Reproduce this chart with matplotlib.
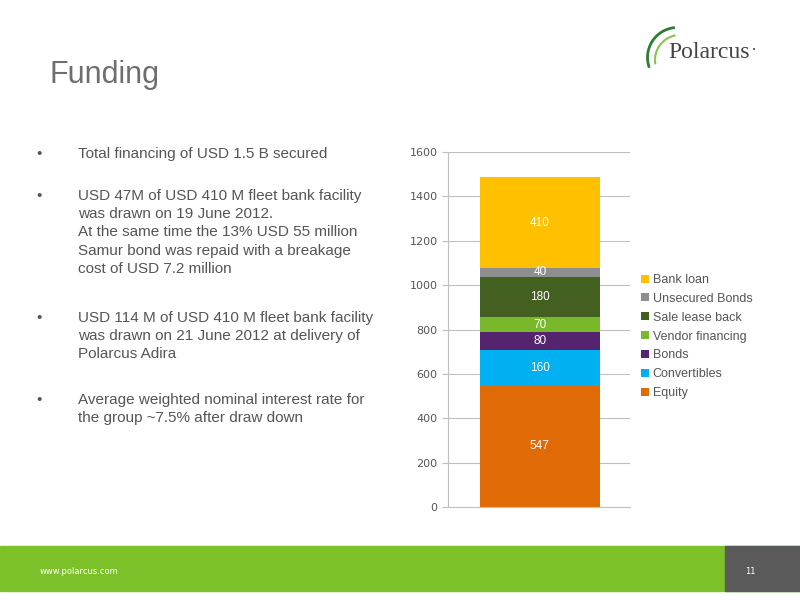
import matplotlib.pyplot as plt
import matplotlib.patches as mpatches
from matplotlib.patches import Arc

categories = ["Equity", "Convertibles", "Bonds", "Vendor financing",
              "Sale lease back", "Unsecured Bonds", "Bank loan"]
values = [547, 160, 80, 70, 180, 40, 410]
colors = ["#E06A06", "#00B0F0", "#55246F", "#78B82A", "#446020", "#8E8E8E", "#FFC000"]
yticks = [0, 200, 400, 600, 800, 1000, 1200, 1400, 1600]

bullets = [
    (147, "Total financing of USD 1.5 B secured"),
    (189, "USD 47M of USD 410 M fleet bank facility\nwas drawn on 19 June 2012.\nAt the same time the 13% USD 55 million\nSamur bond was repaid with a breakage\ncost of USD 7.2 million"),
    (311, "USD 114 M of USD 410 M fleet bank facility\nwas drawn on 21 June 2012 at delivery of\nPolarcus Adira"),
    (393, "Average weighted nominal interest rate for\nthe group ~7.5% after draw down"),
]

fig = plt.figure(figsize=(8, 6), dpi=100)
fig.patch.set_facecolor("white")

# title and bullets
fig.text(50 / 800, 1 - 75 / 600, "Funding", fontsize=22, color="#6E6E6E", va="center",
         family="Liberation Sans")
for y, t in bullets:
    fig.text(36 / 800, 1 - y / 600, "•", fontsize=11, color="#555555", va="top",
             family="Liberation Sans")
    fig.text(78 / 800, 1 - y / 600, t, fontsize=11, color="#555555", va="top",
             linespacing=1.38, family="Liberation Sans")

# logo
fig.text(668 / 800, 1 - 52 / 600, "Polarcus", fontsize=17, color="#444444",
         family="Liberation Serif", va="center")
fig.text(752 / 800, 1 - 50 / 600, "•", fontsize=5, color="#444444", va="center")
lax = fig.add_axes([640 / 800, 1 - 75 / 600, 50 / 800, 50 / 600])
lax.set_xlim(0, 1); lax.set_ylim(0, 1); lax.axis("off")
lax.add_patch(Arc((0.75, 0.35), 1.2, 1.2, theta1=95, theta2=200, color="#2E7D32", lw=2))
lax.add_patch(Arc((0.8, 0.3), 1.0, 1.0, theta1=100, theta2=190, color="#8BC34A", lw=1.5))

# footer
fig.patches.append(mpatches.Rectangle((0, 0.015), 1, 0.075, transform=fig.transFigure,
                                      color="#7CC12A", zorder=0))
fig.patches.append(mpatches.Rectangle((725 / 800, 0.015), 75 / 800, 0.075,
                                      transform=fig.transFigure, color="#5A5A5A", zorder=1))
fig.text(40 / 800, 1 - 572 / 600, "www.polarcus.com", fontsize=6, color="white", va="center")
fig.text(745 / 800, 1 - 572 / 600, "11", fontsize=6, color="white", va="center")

# chart
ax = fig.add_axes([448 / 800, 1 - 507 / 600, 182 / 800, 355 / 600])
bottom = 0
handles = []
for cat, v, c in zip(categories, values, colors):
    b = ax.bar(0.505, v, width=0.66, bottom=bottom, color=c, label=cat, zorder=2)
    ax.text(0.505, bottom + v / 2, str(v), ha="center", va="center",
            fontsize=8.5, color="white", zorder=3, family="Liberation Sans")
    bottom += v
    handles.append(b)

ax.set_xlim(0, 1)
ax.set_ylim(0, 1600)
ax.set_yticks(yticks)
ax.set_xticks([])
ax.yaxis.grid(True, color="#BFBFBF", lw=0.8, zorder=0)
for s in ["top", "right"]:
    ax.spines[s].set_visible(False)
ax.spines["left"].set_color("#BFBFBF")
ax.spines["bottom"].set_color("#BFBFBF")
ax.tick_params(axis="y", length=4, color="#BFBFBF", labelsize=8, labelcolor="#555555")

leg = ax.legend(handles[::-1], categories[::-1], loc="center left",
                bbox_to_anchor=(1.0, 0.48), frameon=False,
                prop={"family": "Liberation Sans", "size": 9},
                handlelength=0.6, handleheight=0.6, handletextpad=0.3,
                labelspacing=0.55, labelcolor="#555555")

fig.savefig("out.png", dpi=100)
